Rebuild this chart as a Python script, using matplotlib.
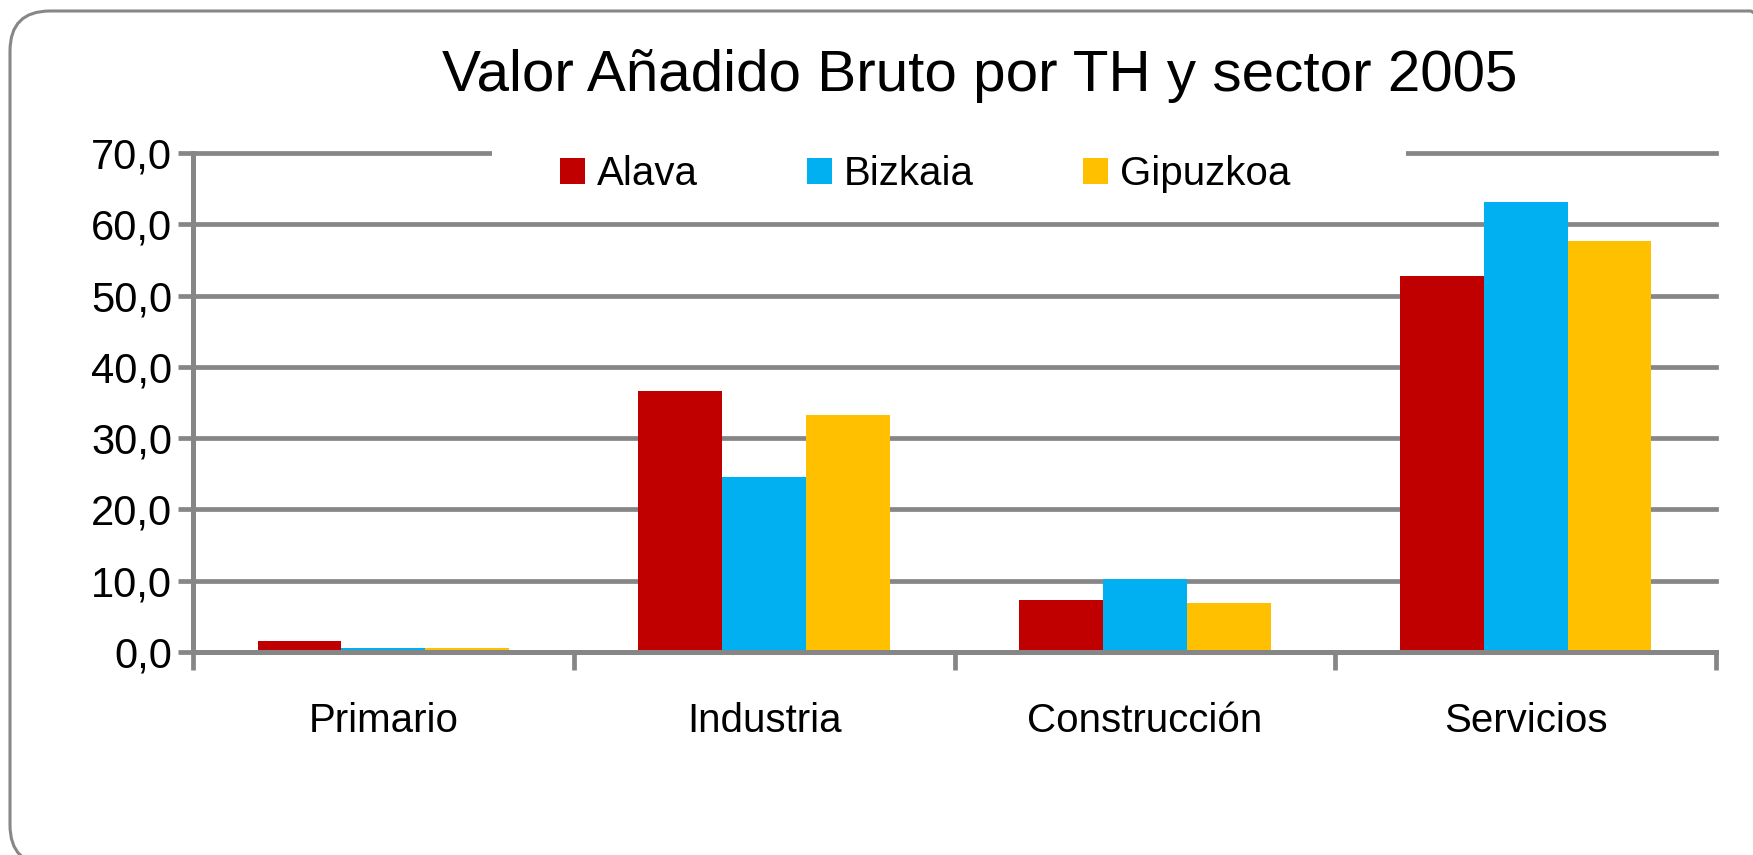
import matplotlib
matplotlib.use("Agg")
import matplotlib.pyplot as plt
from matplotlib import font_manager
from matplotlib.patches import FancyBboxPatch, Patch, Rectangle
import numpy as np

categories = ["Primario", "Industria", "Construcción", "Servicios"]
series_names = ["Alava", "Bizkaia", "Gipuzkoa"]
alava = [1.5, 36.6, 7.3, 52.8]
bizkaia = [0.6, 24.6, 10.2, 63.1]
gipuzkoa = [0.6, 33.3, 6.9, 57.7]
yticks = [0, 10, 20, 30, 40, 50, 60, 70]
ytick_labels = ["0,0", "10,0", "20,0", "30,0", "40,0", "50,0", "60,0", "70,0"]
title = "Valor Añadido Bruto por TH y sector 2005"
colors = ["#C00000", "#00B0F0", "#FFC000"]

names = {f.name for f in font_manager.fontManager.ttflist}
fam = "Liberation Sans Narrow" if "Liberation Sans Narrow" in names else "Liberation Sans"
plt.rcParams["font.family"] = [fam, "DejaVu Sans"]

W, H = 1753, 855
fig = plt.figure(figsize=(W / 100, H / 100), dpi=100)
fig.patch.set_facecolor("white")

# chart border (in inches so the rounding is circular); extends past right/bottom
border = FancyBboxPatch((0.10, -0.10), 17.80, 8.54,
                        boxstyle="round,pad=0,rounding_size=0.40",
                        transform=fig.dpi_scale_trans, facecolor="none",
                        edgecolor="#878787", linewidth=2.2)
fig.patches.append(border)

ax = fig.add_axes([193 / W, 1 - 652 / H, (1716 - 193) / W, (652 - 153) / H])
ax.set_xlim(0, 4)
ax.set_ylim(0, 70)

gray = "#868686"
x = np.arange(len(categories)) + 0.5
bw = 0.22
for i, (vals, c, n) in enumerate(zip([alava, bizkaia, gipuzkoa], colors, series_names)):
    ax.bar(x + (i - 1) * bw, vals, width=bw, color=c, label=n, zorder=3,
           edgecolor="none")

ax.set_yticks(yticks)
ax.set_yticklabels(ytick_labels)
for y in yticks[1:]:
    ax.axhline(y, color=gray, lw=3.4, zorder=1, clip_on=False)
ax.set_xticks([0, 1, 2, 3, 4])
ax.set_xticklabels([])
ax.set_xticks(x, minor=True)
ax.set_xticklabels(categories, minor=True)
ax.tick_params(axis="x", which="minor", length=0, pad=36, labelsize=29)
ax.tick_params(axis="x", which="major", length=13, width=3.4, color=gray)
ax.tick_params(axis="y", length=11, width=3.4, color=gray, labelsize=30, pad=4)
for s in ["top", "right"]:
    ax.spines[s].set_visible(False)
for s in ["left", "bottom"]:
    ax.spines[s].set_color(gray)
    ax.spines[s].set_linewidth(3.6)
    ax.spines[s].set_zorder(4)

# legend area background (white box hiding the top gridline)
ax.add_patch(Rectangle((492 / W, 1 - 200 / H), (1406 - 492) / W, 55 / H,
                       transform=fig.transFigure, facecolor="white",
                       edgecolor="none", zorder=2, clip_on=False))

handles = [Patch(facecolor=c, edgecolor="none") for c in colors]
leg = ax.legend(handles, series_names, loc="center", bbox_to_anchor=(925 / W, 1 - 174 / H),
                bbox_transform=fig.transFigure, ncol=3, frameon=False, fontsize=29,
                handlelength=0.62, handleheight=0.62, handletextpad=0.3,
                columnspacing=2.7, borderpad=0.3)
leg.set_zorder(5)

fig.text(980 / W, 1 - 76 / H, title, ha="center", va="center", fontsize=42)

fig.savefig("out.png", dpi=100)
